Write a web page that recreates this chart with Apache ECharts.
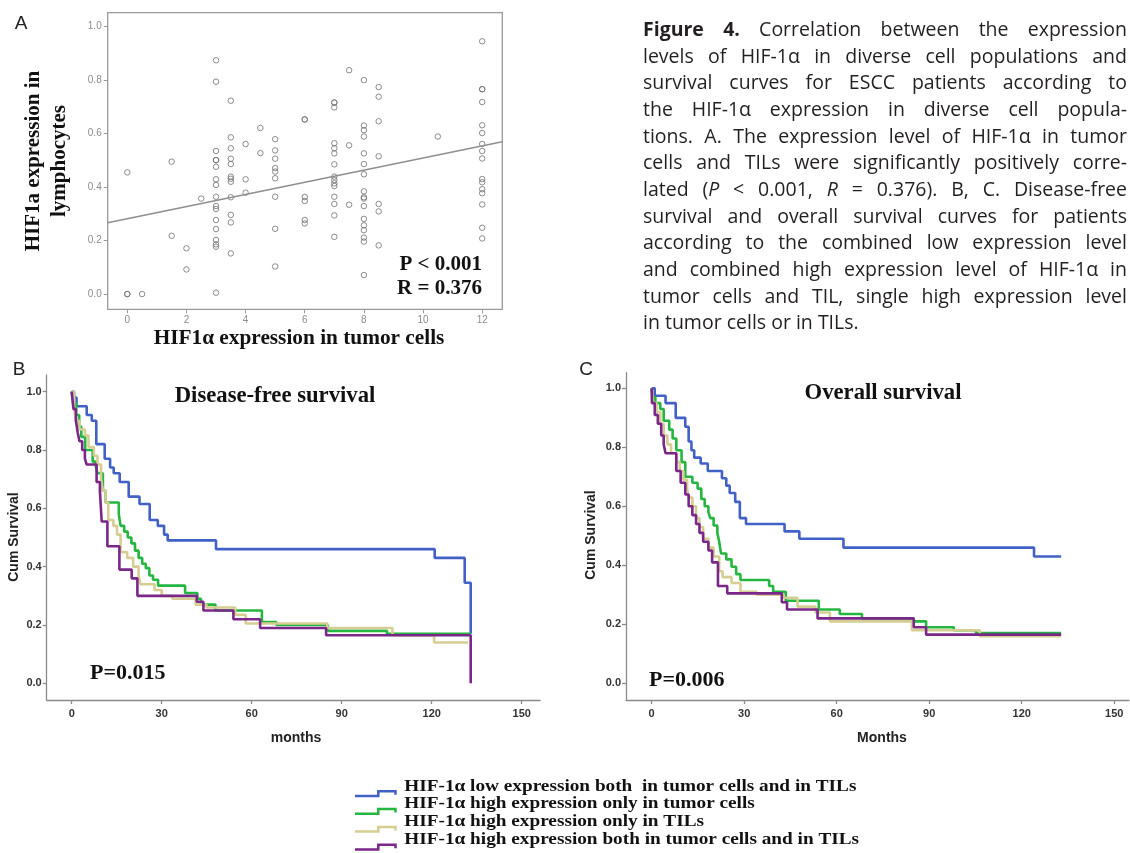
<!DOCTYPE html>
<html>
<head>
<meta charset="utf-8">
<script src="https://cdn.jsdelivr.net/npm/echarts@6/dist/echarts.min.js"></script>
<style>
body { margin: 0; background: #fff; }
#main { position: absolute; left: 0; top: 0; width: 1130px; height: 853px; }
#caption { position: absolute; left: 643px; top: 16px; width: 484px;
  font-family: 'Open Sans', sans-serif; font-size: 19.5px; color: #231f20; }
#caption div { height: 26.67px; line-height: 26.67px; text-align: justify; text-align-last: justify; }
#caption div.last { text-align-last: left; }
</style>
</head>
<body>
<div id="main"></div>
<div id="caption">
  <div><b>Figure 4.</b> Correlation between the expression</div>
  <div>levels of HIF-1α in diverse cell populations and</div>
  <div>survival curves for ESCC patients according to</div>
  <div>the HIF-1α expression in diverse cell popula-</div>
  <div>tions. A. The expression level of HIF-1α in tumor</div>
  <div>cells and TILs were significantly positively corre-</div>
  <div>lated (<i>P</i> &lt; 0.001, <i>R</i> = 0.376). B, C. Disease-free</div>
  <div>survival and overall survival curves for patients</div>
  <div>according to the combined low expression level</div>
  <div>and combined high expression level of HIF-1α in</div>
  <div>tumor cells and TIL, single high expression level</div>
  <div class="last">in tumor cells or in TILs.</div>
</div>
<script>
// ---- panel A: tumor score -> TIL values
const tumorLevels = [0, 0.5, 1.5, 2, 2.5, 3, 3.5, 4, 4.5, 5, 6, 7, 7.5, 8, 8.5, 10.5, 12];
const tilByLevel = [
  [0.455, 0, 0],
  [0],
  [0.495, 0.218],
  [0.171, 0.092],
  [0.357],
  [0.874, 0.794, 0.535, 0.501, 0.501, 0.476, 0.429, 0.408, 0.364, 0.329, 0.318, 0.277, 0.243, 0.202, 0.186, 0.177, 0.005],
  [0.723, 0.586, 0.545, 0.506, 0.486, 0.439, 0.431, 0.420, 0.362, 0.296, 0.268, 0.152],
  [0.561, 0.429, 0.379],
  [0.621, 0.527],
  [0.579, 0.537, 0.506, 0.471, 0.458, 0.433, 0.364, 0.244, 0.103],
  [0.653, 0.653, 0.363, 0.348, 0.277, 0.264],
  [0.716, 0.716, 0.698, 0.564, 0.545, 0.526, 0.485, 0.439, 0.426, 0.414, 0.404, 0.364, 0.337, 0.294, 0.214],
  [0.837, 0.556, 0.334],
  [0.800, 0.630, 0.613, 0.589, 0.526, 0.486, 0.448, 0.384, 0.362, 0.357, 0.329, 0.281, 0.257, 0.239, 0.211, 0.196, 0.071],
  [0.774, 0.738, 0.646, 0.515, 0.337, 0.309, 0.182],
  [0.589],
  [0.945, 0.766, 0.766, 0.718, 0.631, 0.602, 0.561, 0.535, 0.507, 0.430, 0.418, 0.392, 0.377, 0.335, 0.248, 0.208]
];
const fitIntercept = 0.282;
const fitSlope = 0.0227;
const tumorTicks = [0, 2, 4, 6, 8, 10, 12];
const tilTicks = [0, 0.2, 0.4, 0.6, 0.8, 1.0];

// ---- panels B, C: Kaplan-Meier steps (month of drop, survival after it)
const monthTicks = [0, 30, 60, 90, 120, 150];
const survTicks = [0, 0.2, 0.4, 0.6, 0.8, 1.0];

const dfsLowT = [0, 0.8, 1.6, 5.0, 6.7, 8.2, 11.0, 12.8, 14.0, 16.0, 19.0, 22.6, 26.0, 28.7, 30.8, 32.0, 48.1, 121.0, 131.0, 133.0];
const dfsLowS = [1.0, 0.98, 0.95, 0.92, 0.90, 0.82, 0.77, 0.74, 0.72, 0.69, 0.64, 0.615, 0.56, 0.54, 0.51, 0.49, 0.46, 0.43, 0.345, 0.17];
const dfsTumorT = [0, 0.5, 1.5, 2.5, 3.2, 4.5, 7.0, 8.0, 8.6, 10.4, 11.3, 15.7, 16.3, 17.5, 18.7, 19.9, 21.1, 22.3, 23.5, 24.7, 25.9, 27.1, 28.8, 37.8, 41.9, 43.1, 47.9, 63.4, 68.2, 85.4, 105.1, 133.1];
const dfsTumorS = [1.0, 0.96, 0.92, 0.88, 0.845, 0.80, 0.76, 0.745, 0.72, 0.66, 0.62, 0.58, 0.54, 0.52, 0.50, 0.48, 0.455, 0.43, 0.41, 0.395, 0.37, 0.355, 0.335, 0.31, 0.29, 0.27, 0.25, 0.21, 0.20, 0.18, 0.17, 0.17];
const dfsTilT = [0, 0.8, 1.4, 2.6, 4.4, 5.6, 7.4, 8.6, 9.8, 10.4, 11.3, 12.2, 13.9, 15.1, 16.3, 18.5, 20.5, 22.3, 22.9, 27.6, 30.0, 33.6, 41.3, 44.9, 54.5, 58.0, 85.2, 106.9, 120.8, 132.1];
const dfsTilS = [1.0, 0.95, 0.90, 0.87, 0.85, 0.81, 0.78, 0.75, 0.70, 0.66, 0.62, 0.56, 0.54, 0.51, 0.45, 0.43, 0.40, 0.37, 0.34, 0.32, 0.30, 0.29, 0.27, 0.26, 0.235, 0.205, 0.19, 0.165, 0.14, 0.14];
const dfsBothT = [0, 0.3, 0.6, 1.4, 2.0, 2.6, 3.5, 4.4, 5.0, 8.3, 9.4, 10.0, 11.9, 15.9, 20.0, 21.9, 41.7, 43.9, 53.9, 62.8, 84.8, 133.0];
const dfsBothS = [1.0, 0.97, 0.94, 0.90, 0.86, 0.83, 0.80, 0.77, 0.75, 0.69, 0.66, 0.555, 0.47, 0.39, 0.36, 0.30, 0.28, 0.25, 0.22, 0.19, 0.165, 0.0];

const osLowT = [0, 1.0, 4.5, 7.8, 10.9, 12.0, 12.9, 13.8, 15.9, 18.2, 22.8, 24.2, 25.3, 27.1, 28.6, 30.6, 43.1, 47.9, 62.2, 124.0, 132.8];
const osLowS = [1.0, 0.975, 0.95, 0.90, 0.87, 0.82, 0.79, 0.765, 0.745, 0.72, 0.695, 0.67, 0.645, 0.615, 0.56, 0.54, 0.515, 0.49, 0.46, 0.43, 0.43];
const osTumorT = [0, 0.3, 1.2, 2.8, 3.9, 5.7, 6.8, 8.0, 9.7, 10.9, 13.2, 14.9, 16.1, 17.2, 18.4, 19.0, 20.1, 21.3, 21.9, 22.5, 24.2, 25.9, 27.4, 28.8, 38.1, 39.4, 43.5, 54.2, 61.0, 68.2, 85.0, 89.0, 98.0, 105.2, 132.8];
const osTumorS = [1.0, 0.97, 0.95, 0.93, 0.89, 0.86, 0.83, 0.79, 0.75, 0.70, 0.68, 0.66, 0.625, 0.60, 0.58, 0.56, 0.535, 0.51, 0.48, 0.44, 0.42, 0.395, 0.37, 0.35, 0.33, 0.31, 0.28, 0.25, 0.235, 0.22, 0.21, 0.19, 0.18, 0.17, 0.17];
const osTilT = [0, 0.5, 1.6, 2.8, 3.9, 5.1, 6.3, 8.0, 9.1, 10.3, 11.5, 12.0, 13.2, 14.4, 15.5, 16.7, 18.4, 20.1, 21.9, 23.0, 25.9, 28.8, 34.0, 42.7, 47.3, 53.1, 57.8, 84.4, 106.4, 132.8];
const osTilS = [1.0, 0.95, 0.92, 0.88, 0.84, 0.81, 0.78, 0.75, 0.72, 0.69, 0.66, 0.63, 0.60, 0.56, 0.53, 0.49, 0.46, 0.43, 0.38, 0.36, 0.34, 0.31, 0.30, 0.29, 0.26, 0.24, 0.21, 0.18, 0.16, 0.16];
const osBothT = [0, 0.1, 1.0, 2.0, 3.1, 3.9, 4.5, 8.0, 9.4, 10.9, 12.0, 13.2, 14.4, 15.5, 16.7, 18.4, 19.6, 21.5, 24.5, 42.2, 43.9, 53.8, 85.0, 89.0, 132.8];
const osBothS = [1.0, 0.95, 0.91, 0.88, 0.84, 0.81, 0.78, 0.72, 0.68, 0.64, 0.60, 0.57, 0.54, 0.51, 0.48, 0.45, 0.41, 0.33, 0.305, 0.275, 0.25, 0.22, 0.19, 0.165, 0.165];

const groupNames = [
  'HIF-1α low expression both  in tumor cells and in TILs',
  'HIF-1α high expression only in tumor cells',
  'HIF-1α high expression only in TILs',
  'HIF-1α high expression both in tumor cells and in TILs'
];
const groupColors = ['#4261c6', '#25b640', '#d6cd92', '#7b2789'];

const serif = "'Liberation Serif', 'Times New Roman', serif";
const sans = "'Liberation Sans', Arial, sans-serif";

function pairs(xs, ys) { return xs.map(function (x, i) { return [x, ys[i]]; }); }

let scatterData = [];
tumorLevels.forEach(function (lv, i) {
  tilByLevel[i].forEach(function (v) { scatterData.push([lv, v]); });
});

const xMinA = -0.663, xMaxA = 12.68;
const fitData = [[xMinA, fitIntercept + fitSlope * xMinA], [xMaxA, fitIntercept + fitSlope * xMaxA]];

function kmAxes(grid, xmin, xmax, ymin, ymax) {
  const lineStyle = { color: '#8a8a8a', width: 1.3 };
  return {
    x: {
      type: 'value', gridIndex: grid, min: xmin, max: xmax,
      axisLine: { show: true, onZero: false, lineStyle: lineStyle },
      axisTick: { show: true, length: 4, customValues: monthTicks, lineStyle: lineStyle },
      axisLabel: { customValues: monthTicks, margin: 8, fontSize: 11, fontWeight: 'bold', color: '#333', fontFamily: sans },
      splitLine: { show: false }
    },
    y: {
      type: 'value', gridIndex: grid, min: ymin, max: ymax,
      axisLine: { show: true, onZero: false, lineStyle: lineStyle },
      axisTick: { show: true, length: 4, customValues: survTicks, lineStyle: lineStyle },
      axisLabel: { customValues: survTicks, margin: 5, fontSize: 11, fontWeight: 'bold', color: '#333', fontFamily: sans,
        formatter: function (v) { return v.toFixed(1); } },
      splitLine: { show: false }
    }
  };
}

const axB = kmAxes(1, -8.33, 156.1, -0.057, 1.057);
const axC = kmAxes(2, -8.32, 154.8, -0.0566, 1.053);

const kmSets = [
  [[dfsLowT, dfsLowS], [dfsTumorT, dfsTumorS], [dfsTilT, dfsTilS], [dfsBothT, dfsBothS]],
  [[osLowT, osLowS], [osTumorT, osTumorS], [osTilT, osTilS], [osBothT, osBothS]]
];

let series = [
  {
    type: 'scatter', xAxisIndex: 0, yAxisIndex: 0, data: scatterData,
    symbol: 'circle', symbolSize: 5.5,
    itemStyle: { color: 'rgba(0,0,0,0)', borderColor: '#6f6f6f', borderWidth: 1 }
  },
  {
    type: 'line', xAxisIndex: 0, yAxisIndex: 0, data: fitData, symbol: 'none',
    lineStyle: { color: '#8f8f8f', width: 1.5 }
  }
];
kmSets.forEach(function (set, p) {
  set.forEach(function (g, k) {
    series.push({
      name: groupNames[k], type: 'line', step: 'end', symbol: 'none',
      xAxisIndex: p + 1, yAxisIndex: p + 1,
      data: pairs(g[0], g[1]),
      itemStyle: { color: groupColors[k] },
      lineStyle: { color: groupColors[k], width: 2.6 }
    });
  });
});

function txt(x, y, text, font, opts) {
  opts = opts || {};
  return {
    type: 'text', x: x, y: y, rotation: opts.rot || 0, scaleX: opts.sx || 1,
    style: {
      text: text, fill: opts.fill || '#111', font: font,
      textAlign: opts.align || 'center', align: opts.align || 'center',
      textVerticalAlign: 'middle', verticalAlign: 'middle'
    }
  };
}

let graphics = [
  txt(21, 24, 'A', '19px ' + sans, { fill: '#222' }),
  txt(34, 161, 'HIF1a expression in', 'bold 21px ' + serif, { rot: Math.PI / 2 }),
  txt(60, 161, 'lymphocytes', 'bold 21px ' + serif, { rot: Math.PI / 2 }),
  txt(299, 338, 'HIF1α expression in tumor cells', 'bold 21.3px ' + serif),
  txt(482, 265, 'P < 0.001', 'bold 21px ' + serif, { align: 'right' }),
  txt(482, 289, 'R = 0.376', 'bold 21px ' + serif, { align: 'right' }),

  txt(19, 370, 'B', '19px ' + sans, { fill: '#222' }),
  txt(275, 396, 'Disease-free survival', 'bold 22.7px ' + serif),
  txt(90, 673, 'P=0.015', 'bold 22px ' + serif, { align: 'left' }),
  txt(14, 537, 'Cum Survival', 'bold 14px ' + sans, { rot: Math.PI / 2, fill: '#222' }),
  txt(296, 738, 'months', 'bold 14px ' + sans, { fill: '#222' }),

  txt(586, 370, 'C', '19px ' + sans, { fill: '#222' }),
  txt(883, 393, 'Overall survival', 'bold 22.7px ' + serif),
  txt(649, 680, 'P=0.006', 'bold 22px ' + serif, { align: 'left' }),
  txt(591, 535, 'Cum Survival', 'bold 14px ' + sans, { rot: Math.PI / 2, fill: '#222' }),
  txt(882, 738, 'Months', 'bold 14px ' + sans, { fill: '#222' })
];

// legend rows: step-shaped key plus label, under both survival panels
groupNames.forEach(function (name, i) {
  const c = 786.3 + i * 17.8;
  graphics.push({
    type: 'polyline',
    shape: { points: [[355, c + 9.7], [378.3, c + 9.7], [378.3, c + 5], [395.5, c + 5], [395.5, c + 8.5]] },
    style: { stroke: groupColors[i], lineWidth: 2.5, fill: null }
  });
  graphics.push(txt(404.3, c, name, 'bold 16.6px ' + serif, { align: 'left', sx: 1.16 }));
});

const option = {
  animation: false,
  backgroundColor: '#fff',
  grid: [
    { left: 107.7, top: 12.7, width: 394.6, height: 296.6, show: true, borderColor: '#9a9a9a', borderWidth: 1.3, outerBoundsMode: 'none' },
    { left: 46.7, top: 375, width: 493.3, height: 325, outerBoundsMode: 'none' },
    { left: 626, top: 372.7, width: 503, height: 327.3, outerBoundsMode: 'none' }
  ],
  xAxis: [
    {
      type: 'value', gridIndex: 0, min: xMinA, max: xMaxA,
      axisLine: { show: false, onZero: false },
      axisTick: { show: true, length: 4, customValues: tumorTicks, lineStyle: { color: '#9a9a9a' } },
      axisLabel: { customValues: tumorTicks, margin: 6, fontSize: 10, color: '#8c8c8c', fontFamily: sans },
      splitLine: { show: false }
    },
    axB.x, axC.x
  ],
  yAxis: [
    {
      type: 'value', gridIndex: 0, min: -0.057, max: 1.052,
      axisLine: { show: false, onZero: false },
      axisTick: { show: true, length: 4, customValues: tilTicks, lineStyle: { color: '#9a9a9a' } },
      axisLabel: { customValues: tilTicks, margin: 6, fontSize: 10, color: '#8c8c8c', fontFamily: sans,
        formatter: function (v) { return v.toFixed(1); } },
      splitLine: { show: false }
    },
    axB.y, axC.y
  ],
  graphic: graphics,
  series: series
};

const chart = echarts.init(document.getElementById('main'), null, { width: 1130, height: 853 });
chart.setOption(option);
</script>
</body>
</html>
